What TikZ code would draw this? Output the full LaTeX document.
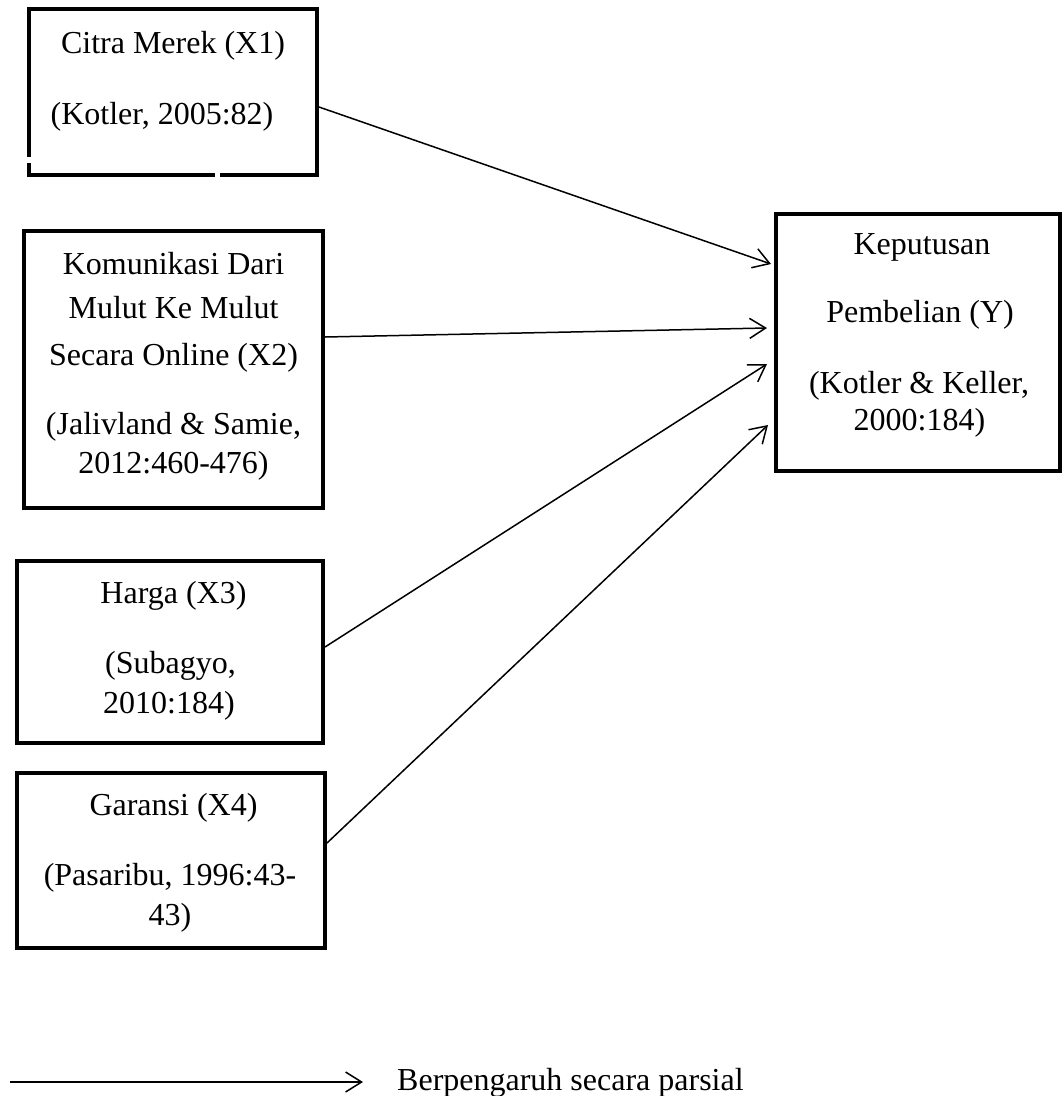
\documentclass[tikz,border=0pt]{standalone}
\usepackage{fontspec}
\setmainfont{Liberation Serif}
\usetikzlibrary{arrows.meta}

\begin{document}
\begin{tikzpicture}[x=1pt, y=-1pt, font=\fontsize{32}{38}\selectfont, line join=miter,
	kotak/.style={draw, line width=4pt, inner sep=0pt, outer sep=0pt},
	teks/.style={anchor=base, inner sep=0pt},
	panah/.style={-{Straight Barb[length=16pt, width=20pt]}, line width=1.5pt}]
	
	\useasboundingbox (0, 0) rectangle (1064, 1096);
	
	% Citra Merek
	\node[kotak, minimum width=288pt, minimum height=166pt] (x1) at (173, 92) {};
	\node[teks] (x1a) at (173, 53) {Citra Merek (X1)};
	\node[teks] (x1b) at (162, 124) {(Kotler, 2005:82)};
	\fill[white] (26, 157) rectangle (32, 163);
	\fill[white] (215, 172) rectangle (220, 178);
	
	% Komunikasi dari mulut ke mulut
	\node[kotak, minimum width=299pt, minimum height=277pt] (x2) at (173.5, 369.5) {};
	\node[teks] (x2a) at (173.5, 274) {Komunikasi Dari};
	\node[teks] (x2b) at (173.5, 318) {Mulut Ke Mulut};
	\node[teks] (x2c) at (173.5, 365) {Secara Online (X2)};
	\node[teks] (x2d) at (173.5, 434) {(Jalivland \& Samie,};
	\node[teks] (x2e) at (173.5, 473) {2012:460-476)};
	
	% Harga
	\node[kotak, minimum width=306pt, minimum height=182pt] (x3) at (170, 652) {};
	\node[teks] (x3a) at (173.5, 603) {Harga (X3)};
	\node[teks] (x3b) at (170.5, 673) {(Subagyo,};
	\node[teks] (x3c) at (169, 713) {2010:184)};
	
	% Garansi
	\node[kotak, minimum width=308pt, minimum height=175pt] (x4) at (171, 860.5) {};
	\node[teks] (x4a) at (173.5, 815) {Garansi (X4)};
	\node[teks] (x4b) at (170, 885) {(Pasaribu, 1996:43-};
	\node[teks] (x4c) at (170, 925) {43)};
	
	% Keputusan pembelian
	\node[kotak, minimum width=284pt, minimum height=257pt] (y) at (918, 342.5) {};
	\node[teks] (ya) at (922, 254) {Keputusan};
	\node[teks] (yb) at (920, 322) {Pembelian (Y)};
	\node[teks] (yc) at (919, 393) {(Kotler \& Keller,};
	\node[teks] (yd) at (919.5, 430) {2000:184)};
	
	% Panah
	\draw[panah] ([xshift=2pt]x1.east |- 0, 107) -- ([xshift=-5pt]y.west |- 0, 264);
	\draw[panah] ([xshift=2pt]x2.east |- 0, 337) -- ([xshift=-9pt]y.west |- 0, 328);
	\draw[panah] ([xshift=2pt]x3.east |- 0, 647) -- ([xshift=-9pt]y.west |- 0, 364);
	\draw[panah] ([xshift=2pt]x4.east |- 0, 843) -- ([xshift=-8pt]y.west |- 0, 425);
	
	% Keterangan
	\coordinate (ka) at (10, 1082);
	\coordinate (kb) at (363, 1082);
	\draw[panah] (ka) -- (kb);
	\node[teks, anchor=base west] (ket) at (397, 1090) {Berpengaruh secara parsial};
\end{tikzpicture}
\end{document}
